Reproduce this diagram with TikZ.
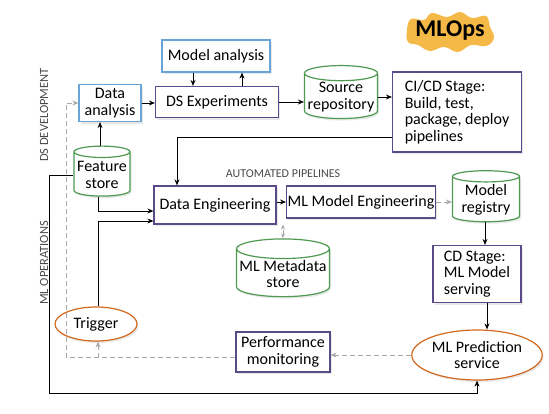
\documentclass[tikz,border=0pt]{standalone}
\usepackage{fontspec}
\setmainfont{Carlito}
\usepackage{tikz}
\usetikzlibrary{arrows.meta,positioning,shapes.geometric,shadows}
\definecolor{devblue}{HTML}{6AA5D8}
\definecolor{stage}{HTML}{5A4A8A}
\definecolor{store}{HTML}{4E9A51}
\definecolor{event}{HTML}{D2691E}
\definecolor{blob}{HTML}{F5B947}
\definecolor{feedgray}{HTML}{A8A8A8}
\definecolor{sidegray}{HTML}{4A4A4A}

\begin{document}
\begin{tikzpicture}[x=1pt,y=-1pt,
  box/.style={draw,line width=1.2pt,fill=white,align=center,inner sep=1pt,
    font=\fontsize{16}{16.5}\selectfont,
    drop shadow={opacity=0.18,shadow xshift=1.5pt,shadow yshift=-2pt}},
  devbox/.style={box,draw=devblue},
  opsbox/.style={box,draw=stage},
  storebox/.style={box,draw=store,cylinder,shape border rotate=90,aspect=0.22},
  eventbox/.style={box,draw=event,ellipse},
  link/.style={-{Stealth[length=6pt,width=5pt]},thick},
  feedback/.style={link,feedgray,dash pattern=on 5pt off 3pt},
  side/.style={rotate=90,text=sidegray,font=\fontsize{12.5}{13}\selectfont}]
  \useasboundingbox (0,0) rectangle (549,413);
  \fill[blob] plot[smooth cycle,tension=0.7] coordinates {(407,30) (411,19) (424,20) (432,13)
    (447,17) (460,12) (472,18) (486,16) (490,27) (494,38) (486,46) (471,45) (458,52) (444,47)
    (430,51) (418,45) (408,42)};
  \node[font=\bfseries\fontsize{24}{25}\selectfont] (mlops) at (450,31) {MLOps};
  \node[side] (devlabel) at (44,115) {DS DEVELOPMENT};
  \node[side] (opslabel) at (44,263) {ML OPERATIONS};
  \node[text=sidegray,font=\fontsize{12}{12}\selectfont] (autolabel) at (283,174) {AUTOMATED PIPELINES};
  \node[devbox,minimum width=108pt,minimum height=32pt] (modelan) at (216,56) {Model analysis};
  \node[devbox,minimum width=62pt,minimum height=37pt] (dataan) at (110,103) {Data\\analysis};
  \node[opsbox,minimum width=123pt,minimum height=31pt] (dsexp) at (217,102) {DS Experiments};
  \node[storebox,minimum width=73pt,minimum height=51pt] (srcrepo) at (341,97) {Source\\repository};
  \node[opsbox,align=left,minimum width=129pt,minimum height=80pt] (cicd) at (457,112)
    {CI/CD Stage:\\Build, test,\\package, deploy\\pipelines};
  \node[storebox,minimum width=56pt,minimum height=50pt] (featstore) at (102,175) {Feature\\store};
  \node[opsbox,minimum width=122pt,minimum height=38pt] (dataeng) at (215,205) {Data Engineering};
  \node[opsbox,minimum width=144pt,minimum height=32pt] (mleng) at (361,202) {ML Model Engineering};
  \node[storebox,minimum width=67pt,minimum height=51pt] (registry) at (486,200) {Model\\registry};
  \node[storebox,minimum width=93pt,minimum height=50pt] (metastore) at (283,274) {ML Metadata\\store};
  \node[opsbox,align=left,minimum width=88pt,minimum height=57pt] (cdstage) at (477,274)
    {CD Stage:\\ML Model\\serving};
  \node[eventbox,minimum width=82pt,minimum height=34pt] (trigger) at (96,324) {Trigger};
  \node[opsbox,minimum width=94pt,minimum height=40pt] (perfmon) at (283,352) {Performance\\monitoring};
  \node[eventbox,minimum width=125pt,minimum height=50pt] (predict) at (477,355) {ML Prediction\\service};

  \draw[link] ([xshift=-23pt]modelan.south) -- ([xshift=-24pt]dsexp.north);
  \draw[link] ([xshift=25pt]dsexp.north) -- ([xshift=26pt]modelan.south);
  \draw[link] (dataan.east) -- (dataan.east -| dsexp.west);
  \draw[link] ([xshift=-2pt]featstore.north) -- ([xshift=-2pt]featstore.north |- dataan.south);
  \draw[link] (dsexp.east) -- (dsexp.east -| srcrepo.west);
  \draw[link] (srcrepo.east) -- (srcrepo.east -| cicd.west);
  \draw[link] ([yshift=-25pt]cicd.west) -| ([xshift=-38pt]dataeng.north);
  \draw[link] ([xshift=-4pt]featstore.south) |- ([yshift=-6pt]dataeng.west);
  \draw[link] ([xshift=2pt]trigger.north) |- ([yshift=-16pt]dataeng.west);
  \draw[link] (featstore.west) -- ++(-24,0) |- ([yshift=-13pt]predict.south) -- (predict.south);
  \draw[link] (mleng.west -| dataeng.east) -- (mleng.west);
  \draw[feedback,{Stealth[length=5pt,width=4pt]}-{Stealth[length=5pt,width=4pt]}]
    (metastore.north) -- (metastore.north |- dataeng.south);
  \draw[feedback] (mleng.east) -- (mleng.east -| registry.west);
  \draw[link] ([xshift=-1pt]registry.south) -- ([xshift=-1pt]registry.south |- cdstage.north);
  \draw[link] ([xshift=10pt]cdstage.south) -- ([xshift=10pt]cdstage.south |- predict.north);
  \draw[feedback] (predict.west) -- (predict.west -| perfmon.east);
  \draw[feedback] ([yshift=-5pt]perfmon.west) -- ++(-169,0) |- (dataan.west);
  \draw[feedback] ([xshift=2pt,yshift=-16pt]trigger.south) -- ([xshift=2pt]trigger.south);
\end{tikzpicture}
\end{document}
